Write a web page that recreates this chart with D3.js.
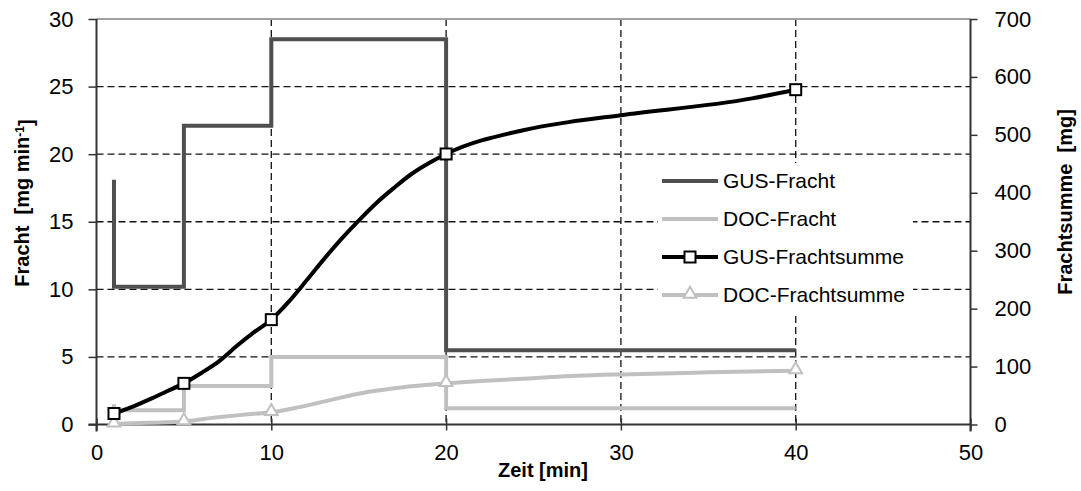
<!DOCTYPE html>
<html>
<head>
<meta charset="utf-8">
<script src="https://cdn.jsdelivr.net/npm/d3@7"></script>
<style>
  html, body { margin: 0; padding: 0; background: #fff; }
  svg { display: block; font-family: Arial, "Liberation Sans", sans-serif; }
</style>
</head>
<body>
<svg id="chart" width="1081" height="491"></svg>
<script>
// Axis ticks
const xTicks = [0, 10, 20, 30, 40, 50];
const leftTicks = [0, 5, 10, 15, 20, 25, 30];
const rightTicks = [0, 100, 200, 300, 400, 500, 600, 700];
const gridX = [10, 20, 30, 40];
const gridY = [5, 10, 15, 20, 25];

// GUS-Fracht (step curve, mg/min)
const gusFrachtX = [1, 1, 5, 5, 10, 10, 20, 20, 40];
const gusFrachtY = [18.1, 10.2, 10.2, 22.1, 22.1, 28.5, 28.5, 5.5, 5.5];

// DOC-Fracht (step curve, mg/min)
const docFrachtX = [1, 1, 5, 5, 10, 10, 20, 20, 40];
const docFrachtY = [1.5, 1.05, 1.05, 2.85, 2.85, 5.0, 5.0, 1.2, 1.2];

// GUS-Frachtsumme (cumulative, mg)
const gusSummeX = [1, 2, 3, 4, 5, 6, 7, 8, 9, 10, 11, 12, 13, 14, 15, 16, 17, 18, 19, 20, 24.4, 27, 30, 37.5, 40];
const gusSummeY = [19, 30, 43, 57, 71, 89, 109, 135, 159, 181, 212, 248, 285, 320, 352, 382, 408, 432, 451, 467, 508, 522, 534, 563, 578];
const gusMarkerX = [1, 5, 10, 20, 40];

// DOC-Frachtsumme (cumulative, mg)
const docSummeX = [1, 3, 5, 6.5, 8.4, 10, 11.6, 13.5, 15.5, 17.4, 20, 22.5, 25, 27.5, 30, 35, 40];
const docSummeY = [1, 3, 5, 11, 17, 21, 30, 43, 56, 64, 71, 76, 80, 84, 86.5, 90, 93];
const docMarkerX = [1, 5, 10, 20, 40];

const legendLabels = ["GUS-Fracht", "DOC-Fracht", "GUS-Frachtsumme", "DOC-Frachtsumme"];

const svg = d3.select("#chart");
const pL = 96.5, pR = 970.5, pT = 19, pB = 424.5;

const x = d3.scaleLinear().domain([0, 50]).range([pL, pR]);
const yL = d3.scaleLinear().domain([0, 30]).range([pB, pT]);
const yR = d3.scaleLinear().domain([0, 700]).range([pB, pT]);

const dark = "#4f4f4f", light = "#c0c0c0";

// dashed grid
const grid = svg.append("g").attr("stroke", "#111").attr("stroke-width", 1.3)
  .attr("stroke-dasharray", "7,4");
grid.selectAll("line.gy").data(gridY).join("line").attr("class", "gy")
  .attr("x1", pL).attr("x2", pR)
  .attr("y1", d => yL(d)).attr("y2", d => yL(d));
grid.selectAll("line.gx").data(gridX).join("line").attr("class", "gx")
  .attr("x1", d => x(d)).attr("x2", d => x(d))
  .attr("y1", pT).attr("y2", pB);

// top border
svg.append("line").attr("x1", pL).attr("x2", pR).attr("y1", pT).attr("y2", pT)
  .attr("stroke", "#a0a0a0").attr("stroke-width", 2);

// legend background
const legX = 658, legY = 163;
svg.append("rect").attr("x", legX).attr("y", legY).attr("width", 255).attr("height", 150)
  .attr("fill", "#fff");

// axes
const axisColor = "#333";
const fontTick = "22px";

const gB = svg.append("g").attr("transform", `translate(0,${pB})`)
  .call(d3.axisBottom(x).tickValues(xTicks).tickSizeInner(6).tickSizeOuter(0).tickPadding(14));
const gL = svg.append("g").attr("transform", `translate(${pL},0)`)
  .call(d3.axisLeft(yL).tickValues(leftTicks).tickSizeInner(8).tickSizeOuter(0).tickPadding(15));
const gR = svg.append("g").attr("transform", `translate(${pR},0)`)
  .call(d3.axisRight(yR).tickValues(rightTicks).tickSizeInner(7).tickSizeOuter(0).tickPadding(17));

[gB, gL, gR].forEach(g => {
  g.select(".domain").attr("stroke", axisColor).attr("stroke-width", 2);
  g.selectAll(".tick line").attr("stroke", axisColor).attr("stroke-width", 1.5);
  g.selectAll(".tick text").attr("fill", "#000").style("font-size", fontTick)
    .style("font-family", "Arial, 'Liberation Sans', sans-serif");
});
// bottom ticks cross the axis line
gB.selectAll(".tick line").attr("y1", -6).attr("y2", 6);
gB.select(".domain").attr("d", `M${pL - 8},0H${pR}`);
gL.select(".domain").attr("d", `M0,${pT}V${pB + 7}`);
gR.select(".domain").attr("d", `M0,${pT}V${pB + 7}`);

// series
const line = (xs, ys, yScale) => d3.line()
  .x((d, i) => x(xs[i])).y((d, i) => yScale(ys[i]));

svg.append("path").datum(gusFrachtX)
  .attr("d", line(gusFrachtX, gusFrachtY, yL))
  .attr("fill", "none").attr("stroke", dark).attr("stroke-width", 4).attr("stroke-linejoin", "miter");

svg.append("path").datum(docFrachtX)
  .attr("d", line(docFrachtX, docFrachtY, yL))
  .attr("fill", "none").attr("stroke", light).attr("stroke-width", 4).attr("stroke-linejoin", "miter");

svg.append("path").datum(docSummeX)
  .attr("d", line(docSummeX, docSummeY, yR).curve(d3.curveMonotoneX))
  .attr("fill", "none").attr("stroke", light).attr("stroke-width", 4);

svg.append("path").datum(gusSummeX)
  .attr("d", line(gusSummeX, gusSummeY, yR).curve(d3.curveMonotoneX))
  .attr("fill", "none").attr("stroke", "#000").attr("stroke-width", 4);

// markers
const tri = d3.symbol().type(d3.symbolTriangle).size(70);
const docVal = xv => docSummeY[docSummeX.indexOf(xv)];
const gusVal = xv => gusSummeY[gusSummeX.indexOf(xv)];

svg.append("g").selectAll("path").data(docMarkerX).join("path")
  .attr("d", tri)
  .attr("transform", d => `translate(${x(d)},${yR(docVal(d)) - 1})`)
  .attr("fill", "#fff").attr("stroke", light).attr("stroke-width", 2);

svg.append("g").selectAll("rect").data(gusMarkerX).join("rect")
  .attr("x", d => x(d) - 5.5).attr("y", d => yR(gusVal(d)) - 5.5)
  .attr("width", 11).attr("height", 11)
  .attr("fill", "#fff").attr("stroke", "#000").attr("stroke-width", 2);

// legend
const rowY = [181, 219, 257, 295];
const leg = svg.append("g");
const styles = [
  {c: dark, m: null}, {c: light, m: null}, {c: "#000", m: "sq"}, {c: light, m: "tri"}
];
legendLabels.forEach((lab, i) => {
  const yy = rowY[i];
  leg.append("line").attr("x1", 662).attr("x2", 718).attr("y1", yy).attr("y2", yy)
    .attr("stroke", styles[i].c).attr("stroke-width", 4);
  if (styles[i].m === "sq") {
    leg.append("rect").attr("x", 690 - 5.5).attr("y", yy - 5.5).attr("width", 11).attr("height", 11)
      .attr("fill", "#fff").attr("stroke", "#000").attr("stroke-width", 2);
  } else if (styles[i].m === "tri") {
    leg.append("path").attr("d", tri).attr("transform", `translate(690,${yy - 1})`)
      .attr("fill", "#fff").attr("stroke", light).attr("stroke-width", 2);
  }
  leg.append("text").attr("x", 723).attr("y", yy).attr("dy", "0.35em")
    .style("font-size", "21px").text(lab);
});

// axis titles
svg.append("text").attr("x", 543).attr("y", 477).attr("text-anchor", "middle")
  .style("font-size", "20px").style("font-weight", "bold").text("Zeit [min]");

const tl = svg.append("text").attr("transform", "translate(29,203) rotate(-90)")
  .attr("text-anchor", "middle").style("font-size", "20px").style("font-weight", "bold")
  .style("white-space", "pre");
tl.append("tspan").text("Fracht  [mg min");
tl.append("tspan").attr("dy", "-0.45em").style("font-size", "12px").text("-1");
tl.append("tspan").attr("dy", "0.45em").text("]");

svg.append("text").attr("transform", "translate(1072,202) rotate(-90)")
  .attr("text-anchor", "middle").style("font-size", "20px").style("font-weight", "bold")
  .style("white-space", "pre")
  .text("Frachtsumme  [mg]");
</script>
</body>
</html>
